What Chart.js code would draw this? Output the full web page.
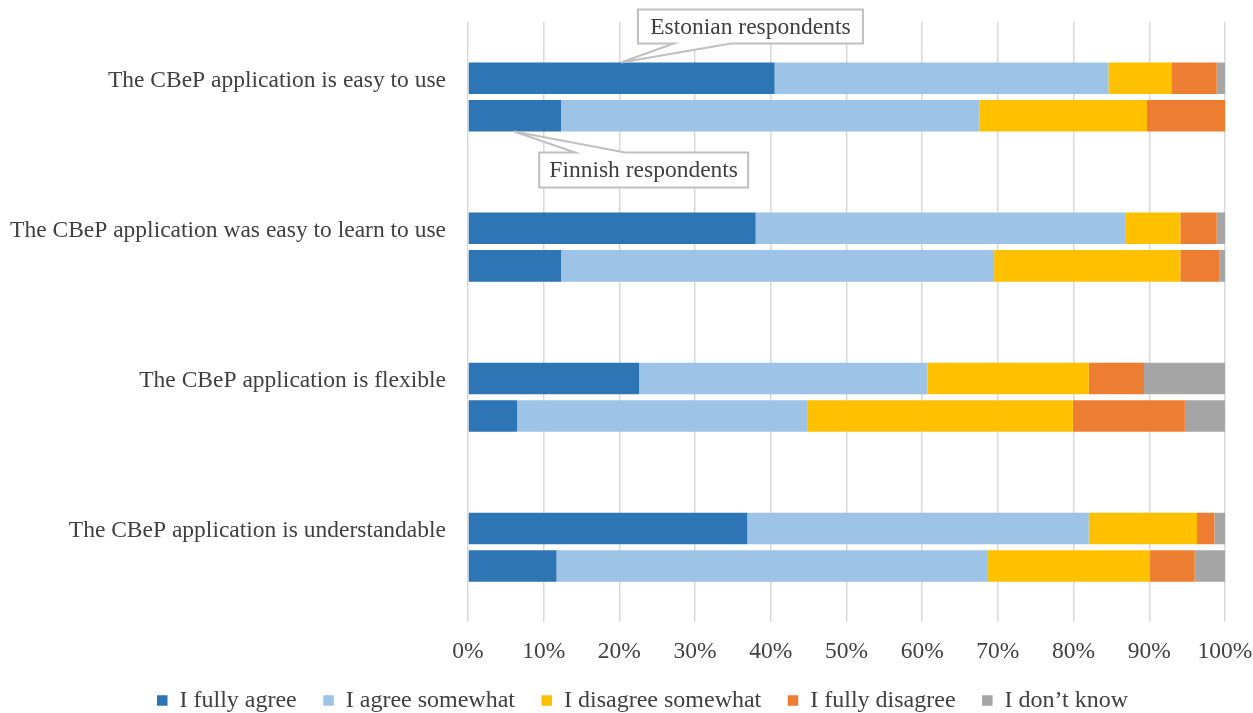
<!DOCTYPE html>
<html>
<head>
<meta charset="utf-8">
<script src="https://cdn.jsdelivr.net/npm/chart.js@4.4.1/dist/chart.umd.min.js"></script>
<style>
  body { margin: 0; background: #fff; }
</style>
</head>
<body>
<canvas id="chart" width="1253" height="713"></canvas>
<script>

// statements (one category each, Estonian bar on top, Finnish bar below)
const questions = [
    'The CBeP application is easy to use',
    'The CBeP application was easy to learn to use',
    'The CBeP application is flexible',
    'The CBeP application is understandable'
];
const answers = ['I fully agree', 'I agree somewhat', 'I disagree somewhat', 'I fully disagree', 'I don\u2019t know'];
const colors = ['#2E75B6', '#9DC3E6', '#FFC000', '#ED7D31', '#A5A5A5'];

// percentages
const estFullyAgree     = [40.5, 38.0, 22.6, 36.9];
const estAgreeSomewhat  = [44.1, 48.9, 38.1, 45.1];
const estDisagreeSome   = [8.4, 7.2, 21.3, 14.3];
const estFullyDisagree  = [5.9, 4.8, 7.3, 2.3];
const estDontKnow       = [1.1, 1.1, 10.7, 1.4];

const finFullyAgree     = [12.3, 12.3, 6.5, 11.7];
const finAgreeSomewhat  = [55.3, 57.2, 38.3, 57.0];
const finDisagreeSome   = [22.1, 24.6, 35.1, 21.4];
const finFullyDisagree  = [10.3, 5.2, 14.8, 5.9];
const finDontKnow       = [0, 0.7, 5.3, 4.0];

const xTicks = [0, 10, 20, 30, 40, 50, 60, 70, 80, 90, 100];

const estonian = [estFullyAgree, estAgreeSomewhat, estDisagreeSome, estFullyDisagree, estDontKnow];
const finnish = [finFullyAgree, finAgreeSomewhat, finDisagreeSome, finFullyDisagree, finDontKnow];

const textColor = '#404040';
const fontSize = 23.5;
const legendPadding = 26.5;

function makeSets (rows, stack) {
    return rows.map((data, i) => {
        return {
            label: answers[i],
            stack: stack,
            data: data,
            backgroundColor: colors[i],
            borderWidth: 0,
            categoryPercentage: 0.5,
            barPercentage: 0.84
        };
    });
}

// draws a box with a wedge pointing to (tipX, tipY)
function drawCallout (ctx, text, tipX, tipY, left, top, w, h, b1, b2, baseOnTop) {
    const right = left + w;
    const bottom = top + h;
    ctx.save();
    ctx.beginPath();
    if (baseOnTop) {
        ctx.moveTo(left, top);
        ctx.lineTo(b1, top);
        ctx.lineTo(tipX, tipY);
        ctx.lineTo(b2, top);
        ctx.lineTo(right, top);
        ctx.lineTo(right, bottom);
        ctx.lineTo(left, bottom);
    } else {
        ctx.moveTo(left, top);
        ctx.lineTo(right, top);
        ctx.lineTo(right, bottom);
        ctx.lineTo(b2, bottom);
        ctx.lineTo(tipX, tipY);
        ctx.lineTo(b1, bottom);
        ctx.lineTo(left, bottom);
    }
    ctx.closePath();
    ctx.fillStyle = '#fff';
    ctx.fill();
    ctx.strokeStyle = '#BFBFBF';
    ctx.lineWidth = 2;
    ctx.stroke();
    ctx.fillStyle = textColor;
    ctx.font = fontSize + 'px "Liberation Serif"';
    ctx.textAlign = 'center';
    ctx.textBaseline = 'middle';
    ctx.fillText(text, left + w / 2, top + h / 2 + 1);
    ctx.restore();
}

const callouts = {
    id: 'callouts',
    afterLayout (chart) {
        // legend sits left of centre in the original, just under the tick labels
        const lg = chart.legend;
        lg.left = 157 - legendPadding;
        lg.right = lg.left + lg.width;
        lg.top = 662;
        lg.bottom = lg.top + lg.height;
    },
    afterDatasetsDraw (chart) {
        const ctx = chart.ctx;
        const x = chart.scales.x;
        const est = chart.getDatasetMeta(0).data[0];
        const fin = chart.getDatasetMeta(5).data[0];

        let tx = x.getPixelForValue(20.2);
        let ty = est.y - est.height / 2;
        drawCallout(ctx, 'Estonian respondents', tx, ty, tx + 17, ty - 53, 225, 34, tx + 53, tx + 110, false);

        tx = x.getPixelForValue(6.1);
        ty = fin.y + fin.height / 2;
        drawCallout(ctx, 'Finnish respondents', tx, ty, tx + 25, ty + 21, 209, 35, tx + 61, tx + 111, true);
    }
};

Chart.defaults.font.family = '"Liberation Serif", "Times New Roman", serif';
Chart.defaults.font.size = fontSize;
Chart.defaults.color = textColor;

new Chart(document.getElementById('chart'), {
    type: 'bar',
    data: {
        labels: questions,
        datasets: makeSets(estonian, 'Estonian').concat(makeSets(finnish, 'Finnish'))
    },
    options: {
        indexAxis: 'y',
        responsive: false,
        animation: false,
        layout: { padding: { top: 22, right: 28, left: 0, bottom: -28 } },
        plugins: {
            legend: {
                position: 'bottom',
                align: 'start',
                labels: {
                    boxWidth: 10.5,
                    boxHeight: 10.5,
                    padding: legendPadding,
                    font: { size: 24 },
                    filter: (item) => item.datasetIndex < 5
                }
            },
            tooltip: { enabled: false }
        },
        scales: {
            x: {
                stacked: true,
                min: 0,
                max: 100,
                afterBuildTicks: (scale) => { scale.ticks = xTicks.map(v => ({ value: v })); },
                afterFit: (scale) => {
                    scale.paddingLeft = 0;
                    scale.paddingRight = 0;
                },
                ticks: {
                    padding: 15,
                    maxRotation: 0,
                    callback: (v) => v + '%'
                },
                grid: { color: '#D9D9D9', lineWidth: 1.5, drawTicks: false },
                border: { display: false }
            },
            y: {
                stacked: true,
                afterFit: (scale) => {
                    scale.width = 468;
                    scale.paddingTop = 0;
                    scale.paddingBottom = 0;
                },
                ticks: {
                    padding: 22,
                    labelOffset: -16.5
                },
                grid: { display: false, drawTicks: false },
                border: { display: false }
            }
        }
    },
    plugins: [callouts]
});
</script>
</body>
</html>
